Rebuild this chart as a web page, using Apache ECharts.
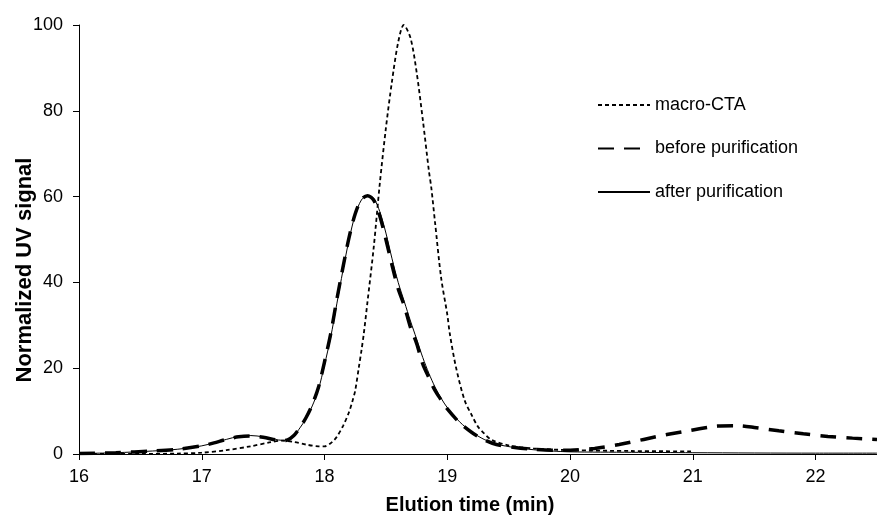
<!DOCTYPE html>
<html>
<head>
<meta charset="utf-8">
<script src="https://cdn.jsdelivr.net/npm/echarts@6/dist/echarts.min.js"></script>
<style>html,body{margin:0;padding:0;background:#fff}#c{width:877px;height:516px}</style>
</head>
<body>
<div id="c"></div>
<script>
var xTicks = [16, 17, 18, 19, 20, 21, 22];
var yTicks = [0, 20, 40, 60, 80, 100];
var yTitle = 'Normalized UV signal';
var xTitle = 'Elution time (min)';

var macroX = [16.0,16.5,16.8,17.0,17.2,17.4,17.55,17.65,17.75,17.85,17.95,18.0,18.05,18.08,18.1,18.15,18.2,18.23,18.25,18.28,18.3,18.32,18.35,18.4,18.45,18.5,18.55,18.6,18.645,18.7,18.75,18.8,18.85,18.87,18.9,18.95,19.0,19.02,19.07,19.14,19.2,19.25,19.3,19.36,19.5,19.7,20.0,20.5,21.0];
var macroY = [0,0,0.1,0.3,0.9,1.8,2.7,3.1,2.8,2.2,1.8,1.8,2.5,3.3,4.0,6.5,9.8,12.6,14.8,20.3,24,28.1,35.5,48,63,76,87,96,100,97,89,78,66,62,54,41,32.5,28.1,20.3,12.6,9,6.35,4.8,3.3,2.0,1.3,0.9,0.7,0.6];

var beforeX = [16.0,16.3,16.6,16.8,17.0,17.1,17.2,17.3,17.4,17.5,17.6,17.65,17.7,17.75,17.8,17.85,17.9,17.95,18.0,18.05,18.1,18.15,18.2,18.25,18.3,18.35,18.4,18.45,18.5,18.55,18.6,18.65,18.7,18.75,18.8,18.85,18.9,18.95,19.0,19.1,19.2,19.3,19.4,19.55,19.7,19.85,20.0,20.2,20.4,20.6,20.8,21.0,21.2,21.35,21.5,21.7,21.9,22.1,22.3,22.5];
var beforeY = [0.1,0.3,0.7,1.1,1.9,2.6,3.4,4.0,4.2,3.9,3.3,3.1,3.3,4.3,6.2,8.5,11.5,15.5,21.5,28.0,36.0,43.5,50.5,56,59.3,60.2,59.2,55.5,50,44,38.5,34.5,29.5,25.8,21.0,17.8,14.8,12.6,10.5,7.3,5.0,3.3,2.2,1.5,1.1,0.9,0.9,1.3,2.2,3.4,4.6,5.6,6.5,6.6,6.2,5.4,4.7,4.1,3.7,3.4];

var afterX = [16.0,16.3,16.6,16.8,17.0,17.1,17.2,17.3,17.4,17.5,17.6,17.65,17.7,17.75,17.8,17.85,17.9,17.95,18.0,18.05,18.1,18.15,18.2,18.25,18.3,18.35,18.4,18.45,18.5,18.55,18.6,18.65,18.7,18.75,18.8,18.85,18.9,18.95,19.0,19.1,19.2,19.3,19.4,19.55,19.7,19.85,20.0,20.5,21.0,22.0,22.5];
var afterY = [0.1,0.3,0.7,1.1,1.9,2.6,3.4,4.1,4.3,4.0,3.4,3.2,3.4,4.3,6.1,8.3,11.2,15.0,20.8,27.2,35.0,42.8,50,55.8,59.2,60.3,59.6,56.5,51.5,45.5,40,35.5,31,26.8,22.5,18.8,15.6,13.0,10.8,7.5,5.1,3.4,2.3,1.5,1.0,0.7,0.5,0.4,0.3,0.2,0.2];

function pairs(xs, ys) { return xs.map(function (x, i) { return [x, ys[i]]; }); }

var chart = echarts.init(document.getElementById('c'));
var font = 'Liberation Sans, Arial, sans-serif';
chart.setOption({
  animation: false,
  backgroundColor: '#fff',
  textStyle: { fontFamily: font },
  grid: { left: 79, right: 0, top: 25, bottom: 62, containLabel: false, outerBoundsMode: 'none' },
  legend: {
    orient: 'vertical', left: 592, top: 91,
    itemWidth: 52, itemHeight: 18, itemGap: 25.5,
    itemStyle: { opacity: 0 },
    textStyle: { fontSize: 18, color: '#000', fontFamily: font },
    data: ['macro-CTA', 'before purification', 'after purification']
  },
  graphic: [{
    type: 'text', x: 25, y: 270, rotation: Math.PI / 2,
    style: { text: yTitle, fill: '#000', font: 'bold 22px ' + font, align: 'center', verticalAlign: 'middle' }
  }],
  xAxis: {
    type: 'value', min: 16, max: 22.5, interval: 1,
    name: xTitle, nameLocation: 'middle', nameGap: 41,
    nameTextStyle: { fontSize: 20, fontWeight: 'bold', color: '#000', fontFamily: font, padding: [0, 16, 0, 0] },
    axisLine: { lineStyle: { color: '#000', width: 1 } },
    axisTick: { show: true, length: 6, inside: false, lineStyle: { color: '#000' } },
    axisLabel: { fontSize: 18, color: '#000', margin: 14, showMaxLabel: false,
      formatter: function (v) { return xTicks.indexOf(v) >= 0 ? String(v) : ''; } },
    splitLine: { show: false }
  },
  yAxis: {
    type: 'value', min: 0, max: 100, interval: 20,
    axisLine: { show: true, lineStyle: { color: '#000', width: 1 } },
    axisTick: { show: true, length: 6, lineStyle: { color: '#000' } },
    axisLabel: { fontSize: 18, color: '#000', margin: 16,
      formatter: function (v) { return yTicks.indexOf(v) >= 0 ? String(v) : ''; } },
    splitLine: { show: false }
  },
  series: [
    { name: 'macro-CTA', type: 'line', smooth: 0.3, symbol: 'none', data: pairs(macroX, macroY),
      lineStyle: { color: '#000', width: 1.8, type: [4, 3] }, itemStyle: { color: '#000' }, z: 3 },
    { name: 'before purification', type: 'line', smooth: 0.3, symbol: 'none', data: pairs(beforeX, beforeY),
      lineStyle: { color: '#000', width: 3.5, type: [16, 10] }, itemStyle: { color: '#000' }, z: 2 },
    { name: 'after purification', type: 'line', smooth: 0.3, symbol: 'none', data: pairs(afterX, afterY),
      lineStyle: { color: '#000', width: 1 }, itemStyle: { color: '#000' }, z: 4 }
  ]
});
</script>
</body>
</html>
